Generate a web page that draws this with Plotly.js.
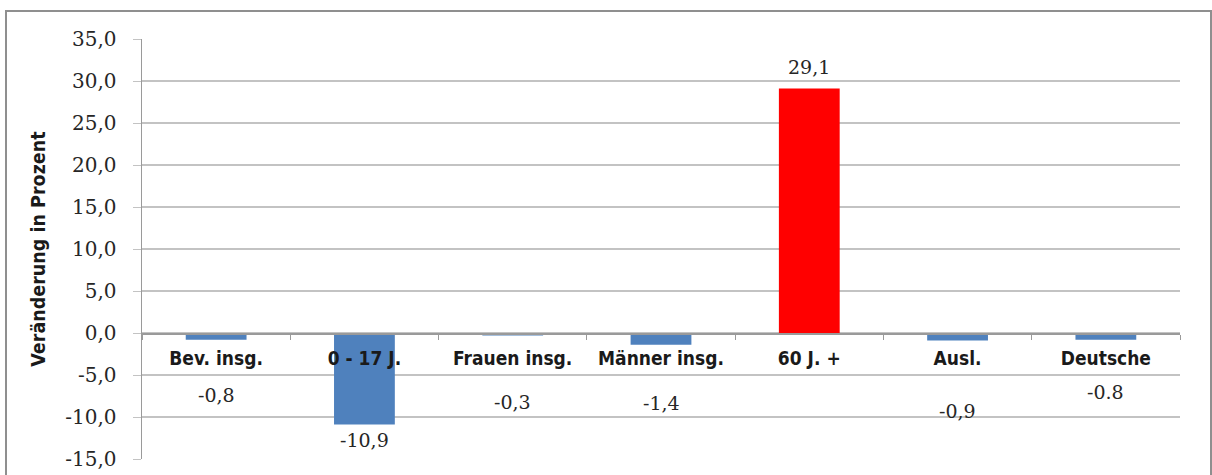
<!DOCTYPE html>
<html>
<head>
<meta charset="utf-8">
<script src="https://cdn.plot.ly/plotly-3.0.1.min.js"></script>
<style>
  html, body { margin: 0; padding: 0; background: #ffffff; }
  #wrap { position: relative; width: 1212px; height: 475px; overflow: hidden; }
  #chart { position: absolute; left: 0; top: 0; width: 1212px; height: 475px; }
  #frame { position: absolute; left: 5px; top: 10px; width: 1203px; height: 520px;
           border: 2px solid #8f8f8f; pointer-events: none; }
</style>
</head>
<body>
<div id="wrap">
  <div id="chart"></div>
  <div id="frame"></div>
</div>
<script>
// ---- data ----
const categories = ["Bev. insg.", "0 - 17 J.", "Frauen insg.", "Männer insg.", "60 J. +", "Ausl.", "Deutsche"];
const values = [-0.8, -10.9, -0.3, -1.4, 29.1, -0.9, -0.8];
const valueLabels = ["-0,8", "-10,9", "-0,3", "-1,4", "29,1", "-0,9", "-0.8"];
const tickValues = [-15, -10, -5, 0, 5, 10, 15, 20, 25, 30, 35];
const tickLabels = ["-15,0", "-10,0", "-5,0", "0,0", "5,0", "10,0", "15,0", "20,0", "25,0", "30,0", "35,0"];
const yTitle = "Veränderung in Prozent";

// ---- styling ----
const barColors = values.map(v => v > 20 ? "#ff0000" : "#4f81bd");
const labelShiftPx = [-55, -15, -66, -58, 22, -70, -52];
const gridCol = "#c3c3c3";
const serif = "DejaVu Serif, Liberation Serif, serif";
const narrow = "DejaVu Sans Condensed, Liberation Sans Narrow, sans-serif";

const trace = {
  type: "bar",
  x: categories,
  y: values,
  marker: { color: barColors, line: { width: 0 } },
  hoverinfo: "skip"
};

const annotations = categories.map((c, i) => ({
  x: c, y: values[i], xref: "x", yref: "y",
  text: valueLabels[i], showarrow: false,
  yanchor: "middle", yshift: labelShiftPx[i],
  font: { family: serif, size: 19, color: "#262626" }
}));

const layout = {
  width: 1212, height: 475,
  margin: { l: 142, r: 32, t: 39, b: 16 },
  paper_bgcolor: "rgba(0,0,0,0)",
  plot_bgcolor: "rgba(0,0,0,0)",
  showlegend: false,
  bargap: 0.59,
  xaxis: {
    type: "category",
    anchor: "free", position: 0.3,
    showline: true, linecolor: "#9a9a9a", linewidth: 1.5,
    ticks: "outside", ticklen: 5, tickcolor: "#9a9a9a", tickson: "boundaries",
    ticklabelstandoff: 8,
    showgrid: false, zeroline: false,
    tickfont: { family: narrow, size: 19, color: "#1a1a1a", weight: "bold" },
    fixedrange: true
  },
  yaxis: {
    range: [-15, 35],
    tickvals: tickValues, ticktext: tickLabels,
    showline: true, linecolor: "#9a9a9a", linewidth: 1.5,
    ticks: "outside", ticklen: 8, tickcolor: gridCol,
    ticklabelstandoff: 12,
    showgrid: true, gridcolor: gridCol, gridwidth: 1.5,
    zeroline: false,
    tickfont: { family: serif, size: 20, color: "#262626" },
    title: { text: "<b>" + yTitle + "</b>", standoff: 14,
             font: { family: narrow, size: 19.5, color: "#1a1a1a" } },
    fixedrange: true
  },
  annotations: annotations
};

Plotly.newPlot("chart", [trace], layout, { displayModeBar: false, staticPlot: true });
</script>
</body>
</html>
